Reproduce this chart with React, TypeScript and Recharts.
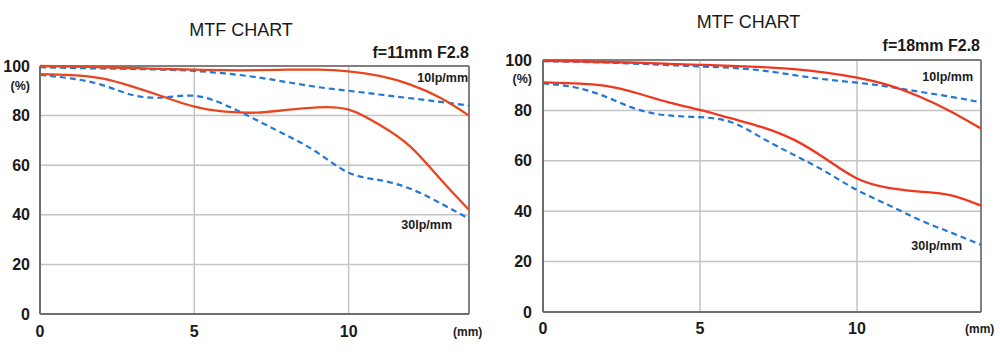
import { LineChart, Line, XAxis, YAxis, CartesianGrid, ReferenceLine } from 'recharts'

// image height (mm) positions
const xLeft = [0, 1, 2, 3, 4, 5, 6, 7, 8, 9, 10, 11, 12, 13, 13.9]
const xRight = [0, 1, 2, 3, 4, 5, 6, 7, 8, 9, 10, 11, 12, 13, 13.95]

// f=11mm F2.8
const sag10Left = [100, 99.8, 99.5, 99.2, 98.8, 98.5, 98.3, 98.3, 98.5, 98.5, 97.8, 96, 92.5, 87, 80]
const mer10Left = [99.5, 99.2, 99, 98.8, 98.5, 98, 97, 95.5, 93.5, 91.5, 90, 88.5, 87, 85.5, 84]
const sag30Left = [96.7, 96.3, 95, 91.7, 87.6, 83.6, 81.6, 81.2, 82.3, 83.3, 82.4, 76.3, 67.5, 54, 42]
const mer30Left = [96.4, 95, 92.4, 88.3, 87.3, 88, 84.3, 78.3, 72, 65, 57, 54, 50.5, 44.5, 38.4]

// f=18mm F2.8
const sag10Right = [99.7, 99.5, 99.2, 98.9, 98.5, 98.1, 97.7, 97.2, 96.4, 95, 93, 90, 85.4, 79.5, 72.8]
const mer10Right = [99.5, 99.3, 99, 98.5, 98, 97.4, 96.9, 95.8, 94, 92.3, 91, 89.4, 87.4, 85.4, 83.2]
const sag30Right = [91.1, 90.7, 89.7, 86.8, 83.2, 80.2, 76.8, 73.3, 68.3, 60.8, 53, 49.3, 47.8, 46.3, 42.2]
const mer30Right = [90.7, 89.2, 85.4, 80.4, 78, 77.3, 75.3, 68.9, 62.3, 55.7, 48.4, 42.5, 36.5, 31.5, 26.6]

const yTicks = [0, 20, 40, 60, 80, 100]
const xTicks = [0, 5, 10]

const FONT = '"Liberation Sans", Arial, sans-serif'
const TEXT = '#1a1a1a'
const BLUE = '#2477d4'

const build = (xs: number[], s10: number[], m10: number[], s30: number[], m30: number[]) =>
  xs.map((x, i) => ({ x, s10: s10[i], m10: m10[i], s30: s30[i], m30: m30[i] }))

interface PanelProps {
  data: { x: number; s10: number; m10: number; s30: number; m30: number }[]
  xMax: number
  margin: { top: number; right: number; bottom: number; left: number }
  yWidth: number
  yGap: number
  xGap: number
  red: string
}

function MtfPanel({ data, xMax, margin, yWidth, yGap, xGap, red }: PanelProps) {
  const tick = { fontSize: 16, fontWeight: 700, fill: TEXT, fontFamily: FONT }
  return (
    <LineChart width={500} height={355} data={data} margin={margin}>
      <CartesianGrid stroke="#c4c4c4" strokeWidth={1.5} />
      <XAxis
        type="number"
        dataKey="x"
        domain={[0, xMax]}
        ticks={xTicks}
        tick={tick}
        tickLine={false}
        tickSize={0}
        tickMargin={xGap}
        height={30}
        stroke="#6e6e6e"
        strokeWidth={2}
      />
      <YAxis
        type="number"
        domain={[0, 100]}
        ticks={yTicks}
        tick={tick}
        tickLine={false}
        tickSize={0}
        tickMargin={yGap}
        width={yWidth}
        stroke="#6e6e6e"
        strokeWidth={2}
      />
      <ReferenceLine y={100} stroke="#808080" strokeWidth={2} />
      <ReferenceLine x={xMax} stroke="#808080" strokeWidth={2} />
      <Line type="natural" dataKey="m10" stroke={BLUE} strokeWidth={2.2} strokeDasharray="6 4" dot={false} isAnimationActive={false} />
      <Line type="natural" dataKey="m30" stroke={BLUE} strokeWidth={2.2} strokeDasharray="6 4" dot={false} isAnimationActive={false} />
      <Line type="natural" dataKey="s10" stroke={red} strokeWidth={2.3} dot={false} isAnimationActive={false} />
      <Line type="natural" dataKey="s30" stroke={red} strokeWidth={2.3} dot={false} isAnimationActive={false} />
    </LineChart>
  )
}

const txt = (
  s: string,
  size: number,
  weight: number,
  pos: { left?: number; right?: number; cx?: number; cy: number }
) => {
  const style: any = {
    position: 'absolute',
    top: pos.cy - size / 2,
    fontSize: size,
    lineHeight: `${size}px`,
    fontWeight: weight,
    fontFamily: FONT,
    color: TEXT,
    whiteSpace: 'nowrap',
  }
  if (pos.cx !== undefined) {
    style.left = pos.cx - 200
    style.width = 400
    style.textAlign = 'center'
  } else if (pos.right !== undefined) {
    style.right = 1000 - pos.right
  } else {
    style.left = pos.left
  }
  return <div style={style}>{s}</div>
}

export default function App() {
  const left = build(xLeft, sag10Left, mer10Left, sag30Left, mer30Left)
  const right = build(xRight, sag10Right, mer10Right, sag30Right, mer30Right)
  return (
    <div style={{ position: 'absolute', left: 0, top: 0, width: 1000, height: 355, background: '#fff', overflow: 'hidden' }}>
      <div style={{ position: 'absolute', left: 0, top: 0 }}>
        <MtfPanel
          data={left}
          xMax={13.9}
          margin={{ top: 66, right: 31, bottom: 11, left: 10 }}
          yWidth={30}
          yGap={10}
          xGap={12}
          red="#e8461e"
        />
      </div>
      <div style={{ position: 'absolute', left: 500, top: 0 }}>
        <MtfPanel
          data={right}
          xMax={13.95}
          margin={{ top: 60, right: 19, bottom: 13, left: 10 }}
          yWidth={33}
          yGap={11}
          xGap={11}
          red="#f0361e"
        />
      </div>

      {txt('MTF CHART', 18, 400, { cx: 241, cy: 29.5 })}
      {txt('MTF CHART', 18, 400, { cx: 748.5, cy: 21.5 })}
      {txt('f=11mm F2.8', 16, 700, { right: 469, cy: 52.5 })}
      {txt('f=18mm F2.8', 16, 700, { right: 980, cy: 46 })}
      {txt('(%)', 12.5, 700, { right: 30, cy: 86 })}
      {txt('(%)', 12.5, 700, { right: 532, cy: 79 })}
      {txt('(mm)', 12, 700, { left: 453, cy: 332 })}
      {txt('(mm)', 12, 700, { left: 965, cy: 329 })}
      {txt('10lp/mm', 12.5, 700, { right: 468, cy: 78 })}
      {txt('30lp/mm', 12.5, 700, { right: 452, cy: 225 })}
      {txt('10lp/mm', 12.5, 700, { right: 973, cy: 77.5 })}
      {txt('30lp/mm', 12.5, 700, { right: 962, cy: 246.5 })}
    </div>
  )
}
